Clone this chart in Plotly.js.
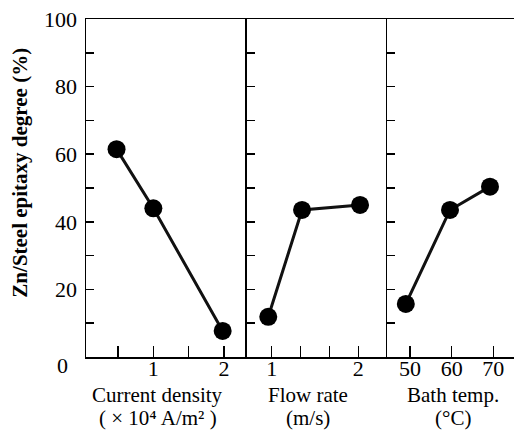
<!DOCTYPE html>
<html><head><meta charset="utf-8">
<script src="https://cdn.plot.ly/plotly-3.0.1.min.js"></script>
<style>html,body{margin:0;padding:0;background:#fff}</style>
</head><body><div id="chart" style="width:515px;height:430px"></div>
<script>
// ---- data ----
const currentDensity = [0.48, 1.0, 1.98];
const currentDensityDegree = [61.5, 44.0, 7.7];
const flowRate = [0.96, 1.35, 2.02];
const flowRateDegree = [11.9, 43.5, 45.0];
const bathTemp = [49.0, 59.6, 69.2];
const bathTempDegree = [15.7, 43.5, 50.4];

const yTickVals = [0, 10, 20, 30, 40, 50, 60, 70, 80, 90, 100];
const yTickText = ['', '', '20', '', '40', '', '60', '', '80', '', '100'];
const cdTickVals = [0.5, 1, 1.5, 2];
const cdTickText = ['', '1', '', '2'];
const frTickVals = [1, 1.33, 1.67, 2];
const frTickText = ['1', '', '', '2'];
const btTickVals = [50, 60, 70];
const btTickText = ['50', '60', '70'];

const FONT = "'Liberation Serif', 'Times New Roman', serif";
const lineStyle = {color: '#111', width: 3};
const markerStyle = {size: 18, color: '#000'};

const traces = [
  {x: currentDensity, y: currentDensityDegree, xaxis: 'x', yaxis: 'y', mode: 'lines+markers', line: lineStyle, marker: markerStyle},
  {x: flowRate, y: flowRateDegree, xaxis: 'x2', yaxis: 'y2', mode: 'lines+markers', line: lineStyle, marker: markerStyle},
  {x: bathTemp, y: bathTempDegree, xaxis: 'x3', yaxis: 'y3', mode: 'lines+markers', line: lineStyle, marker: markerStyle}
];

function xAx(domain, range, vals, text) {
  return {domain: domain, range: range, tickmode: 'array', tickvals: vals, ticktext: text,
    ticks: 'inside', ticklen: 11, tickwidth: 1.5, tickcolor: '#000',
    showline: true, mirror: true, linecolor: '#000', linewidth: 1.5,
    showgrid: false, zeroline: false, fixedrange: true,
    tickfont: {family: FONT, size: 22, color: '#000'}, ticklabelstandoff: -9};
}
function yAx(anchor, showLabels) {
  return {anchor: anchor, range: [0, 100], tickmode: 'array', tickvals: yTickVals,
    ticktext: showLabels ? yTickText : yTickVals.map(() => ''),
    ticks: 'inside', ticklen: 8, tickwidth: 1.5, tickcolor: '#000',
    showline: true, linecolor: '#000', linewidth: 1.5,
    showgrid: false, zeroline: false, fixedrange: true,
    tickfont: {family: FONT, size: 22, color: '#000'}, ticklabelstandoff: 3};
}

const annFont = {family: FONT, size: 21, color: '#000'};
function lab(text, x, y) {
  return {text: text, xref: 'paper', yref: 'paper', x: x, y: y, xanchor: 'center', yanchor: 'middle',
    showarrow: false, font: annFont};
}
const layout = {
  width: 515, height: 430,
  margin: {l: 86, r: 1, t: 19, b: 73},
  paper_bgcolor: '#fff', plot_bgcolor: '#fff',
  showlegend: false,
  xaxis: xAx([0, 0.3755], [0.048, 2.32], cdTickVals, cdTickText),
  xaxis2: xAx([0.3755, 0.704], [0.711, 2.335], frTickVals, frTickText),
  xaxis3: xAx([0.704, 1], [44.56, 74.96], btTickVals, btTickText),
  yaxis: yAx('x', true),
  yaxis2: yAx('x2', false),
  yaxis3: yAx('x3', false),
  annotations: [
    {text: '<b>Zn/Steel epitaxy degree (%)</b>', textangle: -90, xref: 'paper', yref: 'paper',
     x: -0.153, y: 0.544, xanchor: 'center', yanchor: 'middle', showarrow: false,
     font: {family: FONT, size: 21, color: '#000'}},
    {text: '0', xref: 'paper', yref: 'paper', x: -0.0549, y: -0.0266, xanchor: 'center', yanchor: 'middle',
     showarrow: false, font: {family: FONT, size: 22, color: '#000'}},
    lab('Current density', 0.168, -0.1124),
    lab('( × 10⁴ A/m² )', 0.168, -0.1805),
    lab('Flow rate', 0.5187, -0.1124),
    lab('(m/s)', 0.5187, -0.1805),
    lab('Bath temp.', 0.8575, -0.1124),
    lab('(°C)', 0.8575, -0.1805)
  ]
};

Plotly.newPlot('chart', traces, layout, {staticPlot: true, displayModeBar: false});
</script></body></html>
